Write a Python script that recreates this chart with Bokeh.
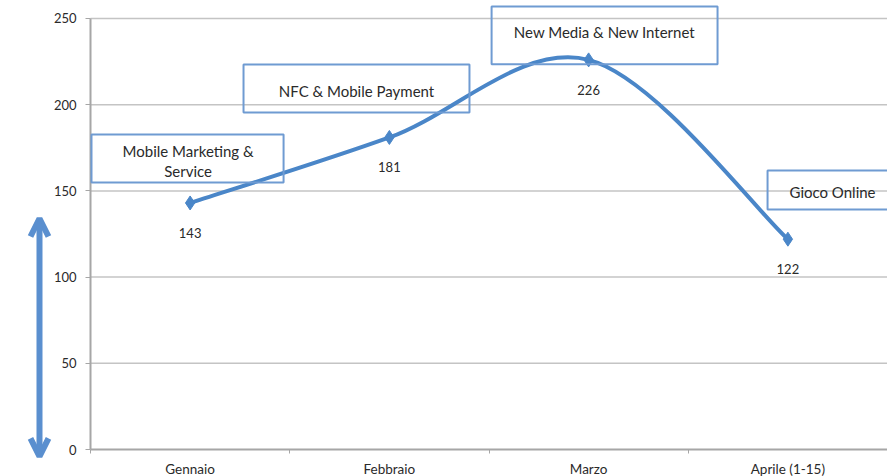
from bokeh.plotting import figure
from bokeh.models import (Range1d, FixedTicker, BoxAnnotation, Arrow, OpenHead,
                          ColumnDataSource, Label)
from bokeh.embed import file_html
from bokeh.resources import INLINE

# ---- data ----
categories = ["Gennaio", "Febbraio", "Marzo", "Aprile (1-15)"]
values = [143, 181, 226, 122]
topics = ["Mobile Marketing &\nService", "NFC & Mobile Payment",
          "New Media & New Internet", "Gioco Online"]
y_ticks = [0, 50, 100, 150, 200, 250]

FONT = "Lato"
BLUE = "#4a86c8"
ARROW_BLUE = "#5a8fcf"
BOX_BLUE = "#6f9bd2"
TXT = "#2a2a2a"
AX = "#a6a6a6"

xs = [i + 0.5 for i in range(len(categories))]
ncat = len(categories)

# frame covers the whole canvas; axes are pinned at data 0 with fixed_location
p = figure(width=887, height=476, output_backend="svg", toolbar_location=None,
           x_range=Range1d(-0.4517, ncat), y_range=Range1d(-15.66, 260.44),
           min_border_left=0, min_border_right=0, min_border_top=0,
           min_border_bottom=0)
p.outline_line_color = None
p.background_fill_color = "white"
p.border_fill_color = "white"

# axes
p.xaxis.fixed_location = 0
p.xaxis.bounds = (0, ncat)
p.xaxis.ticker = FixedTicker(ticks=xs, minor_ticks=list(range(ncat + 1)))
p.xaxis.major_label_overrides = {x: c for x, c in zip(xs, categories)}
p.xaxis.major_tick_out = 0
p.xaxis.major_tick_in = 0
p.xaxis.minor_tick_out = 4
p.xaxis.minor_tick_in = 0
p.xaxis.minor_tick_line_color = AX
p.xaxis.axis_line_color = AX
p.xaxis.axis_line_width = 2
p.xaxis.major_label_standoff = 7
p.xaxis.major_label_text_font = FONT
p.xaxis.major_label_text_font_size = "13.5px"
p.xaxis.major_label_text_color = TXT

p.yaxis.fixed_location = 0
p.yaxis.bounds = (0, 250)
p.yaxis.ticker = FixedTicker(ticks=y_ticks, minor_ticks=[])
p.yaxis.major_tick_out = 5
p.yaxis.major_tick_in = 0
p.yaxis.major_tick_line_color = AX
p.yaxis.axis_line_color = AX
p.yaxis.axis_line_width = 2
p.yaxis.major_label_standoff = 9
p.yaxis.major_label_text_font = FONT
p.yaxis.major_label_text_font_size = "13px"
p.yaxis.major_label_text_color = TXT

p.xgrid.visible = False
p.ygrid.visible = False
grid_y = y_ticks[1:]
p.segment(x0=[0] * len(grid_y), x1=[ncat] * len(grid_y), y0=grid_y, y1=grid_y,
          line_color="#c4c4c4", line_width=1.5, level="underlay")

# smoothed line (cubic Bezier through the data points)
n = len(values)
pts = list(zip(xs, values))
x0, y0, x1, y1, cx0, cy0, cx1, cy1 = [], [], [], [], [], [], [], []
for i in range(n - 1):
    pm = pts[max(i - 1, 0)]
    pa = pts[i]
    pb = pts[i + 1]
    pn = pts[min(i + 2, n - 1)]
    x0.append(pa[0]); y0.append(pa[1]); x1.append(pb[0]); y1.append(pb[1])
    cx0.append(pa[0] + (pb[0] - pm[0]) / 6); cy0.append(pa[1] + (pb[1] - pm[1]) / 6)
    cx1.append(pb[0] - (pn[0] - pa[0]) / 6); cy1.append(pb[1] - (pn[1] - pa[1]) / 6)
p.bezier(x0=x0, y0=y0, x1=x1, y1=y1, cx0=cx0, cy0=cy0, cx1=cx1, cy1=cy1,
         line_color=BLUE, line_width=4)

src = ColumnDataSource(dict(x=xs, y=values, lab=[str(v) for v in values]))
p.scatter("x", "y", source=src, marker="diamond", size=14, color=BLUE)
p.text("x", "y", text="lab", source=src, y_offset=30, text_align="center",
       text_baseline="middle", text_font_size="13px", text_color=TXT,
       text_font={"value": FONT})

# annotation boxes (layout positions in data units)
boxes = [  # left, right, bottom, top
    (0.005, 0.969, 154.9, 182.7),
    (0.768, 1.902, 195.5, 223.3),
    (2.013, 3.147, 223.5, 257.0),
    (3.398, 4.6, 139.2, 161.8),
]
for (l, r, b, t) in boxes:
    p.add_layout(BoxAnnotation(left=l, right=r, bottom=b, top=t, fill_alpha=0,
                               line_color=BOX_BLUE, line_width=2, line_alpha=1))

text_pos = [  # x, y for each line of each topic
    [(0.49, 173.4), (0.49, 161.8)],
    [(1.335, 208.2)],
    [(2.58, 241.9)],
    [(3.724, 149.1)],
]
for topic, poss in zip(topics, text_pos):
    for line, (tx, ty) in zip(topic.split("\n"), poss):
        p.add_layout(Label(x=tx, y=ty, text=line, text_align="center",
                           text_baseline="middle", text_font=FONT,
                           text_font_size="15px", text_color=TXT))

# double-headed arrow on the left
arrow_head = dict(size=18, line_color=ARROW_BLUE, line_width=6)
p.add_layout(Arrow(x_start=-0.256, y_start=-4.0, x_end=-0.256, y_end=134.0,
                   start=OpenHead(**arrow_head), end=OpenHead(**arrow_head),
                   line_color=ARROW_BLUE, line_width=6))

open("out.html", "w").write(file_html(p, INLINE))
